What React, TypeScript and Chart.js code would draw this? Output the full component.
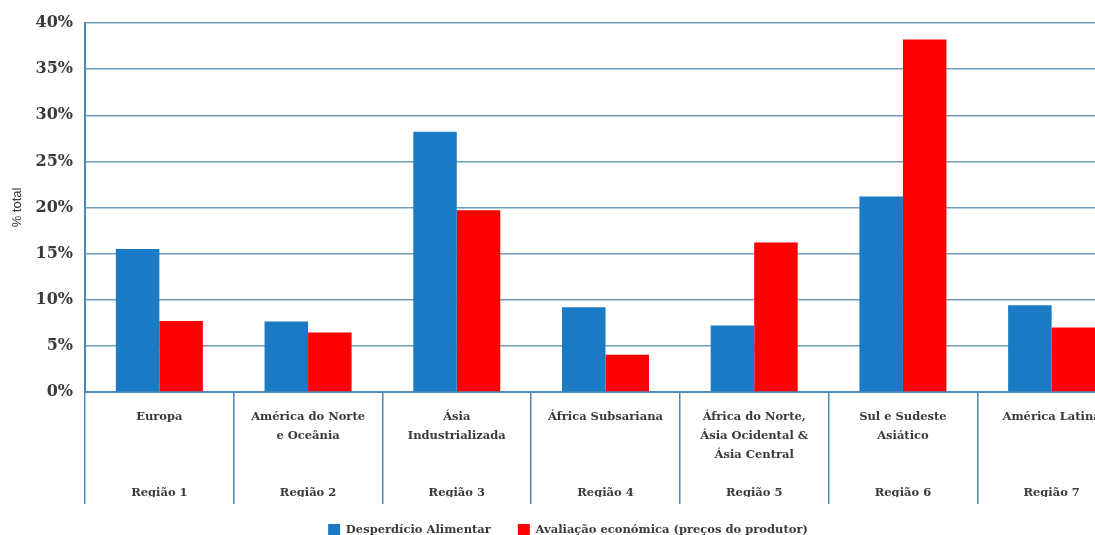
import { useEffect, useRef } from 'react';
import { Chart, registerables } from 'chart.js';

Chart.register(...registerables);

// Regional names (one entry per line) and region codes shown under each group
const regionNames: string[][] = [
  ['Europa'],
  ['América do Norte', 'e Oceânia'],
  ['Ásia', 'Industrializada'],
  ['África Subsariana'],
  ['África do Norte,', 'Ásia Ocidental &', 'Ásia Central'],
  ['Sul e Sudeste', 'Asiático'],
  ['América Latina'],
];
const regionCodes = ['Região 1', 'Região 2', 'Região 3', 'Região 4', 'Região 5', 'Região 6', 'Região 7'];

// Share of the total (%)
const foodWaste = [15.5, 7.65, 28.2, 9.2, 7.2, 21.2, 9.4];
const economicValue = [7.7, 6.45, 19.7, 4.05, 16.2, 38.2, 7.0];

const seriesNames = ['Desperdício Alimentar', 'Avaliação económica (preços do produtor)'];
const yTickValues = [0, 5, 10, 15, 20, 25, 30, 35, 40];

const BLUE = '#1a7bc4';
const RED = '#ff0000';
const GRID = '#6b9dbd';
const AXIS = '#4f89b2';
const TEXT = '#3a3a3a';
const SERIF = '"DejaVu Serif", "Liberation Serif", serif';

// Five text lines per category: the name lines, blank filler, then the region code
const labelLines = regionNames.map((name, i) => {
  const lines = [...name];
  while (lines.length < 4) lines.push('');
  lines.push(regionCodes[i]);
  return lines;
});

export default function App() {
  const canvasRef = useRef<HTMLCanvasElement | null>(null);

  useEffect(() => {
    const canvas = canvasRef.current;
    if (!canvas) return;
    const chart = new Chart(canvas, {
      type: 'bar',
      data: {
        labels: labelLines,
        datasets: [
          {
            label: seriesNames[0],
            data: foodWaste,
            backgroundColor: BLUE,
            categoryPercentage: 0.585,
            barPercentage: 1.0,
          },
          {
            label: seriesNames[1],
            data: economicValue,
            backgroundColor: RED,
            categoryPercentage: 0.585,
            barPercentage: 1.0,
          },
        ],
      },
      options: {
        responsive: false,
        animation: false,
        devicePixelRatio: 1,
        layout: { padding: { top: 23, left: 10, right: 10, bottom: 0 } },
        plugins: {
          tooltip: { enabled: false },
          legend: {
            position: 'bottom',
            labels: {
              boxWidth: 12,
              boxHeight: 12,
              padding: 27,
              color: TEXT,
              font: { family: SERIF, size: 11.5, weight: 'bold' },
            },
          },
        },
        scales: {
          x: {
            grid: {
              display: true,
              offset: true,
              drawOnChartArea: false,
              drawTicks: true,
              tickLength: 112,
              color: AXIS,
              lineWidth: 1.5,
            },
            border: { display: true, color: AXIS, width: 2 },
            ticks: {
              color: TEXT,
              padding: -96,
              maxRotation: 0,
              autoSkip: false,
              font: { family: SERIF, size: 11.5, weight: 'bold', lineHeight: '19px' },
            },
            afterFit: (scale: any) => {
              scale.height = 105;
            },
          },
          y: {
            min: 0,
            max: 40,
            afterBuildTicks: (scale: any) => {
              scale.ticks = yTickValues.map((v) => ({ value: v }));
            },
            grid: { color: GRID, lineWidth: 1.5, drawTicks: false },
            border: { display: true, color: AXIS, width: 2 },
            ticks: {
              color: TEXT,
              padding: 12,
              font: { family: SERIF, size: 16, weight: 'bold' },
              callback: (v: any) => `${v}%`,
            },
            title: {
              display: true,
              text: '% total',
              color: TEXT,
              padding: { top: 0, bottom: 4 },
              font: { family: '"Liberation Sans", Arial, sans-serif', size: 13 },
            },
            afterFit: (scale: any) => {
              scale.width = 75;
            },
          },
        },
      },
    });
    return () => chart.destroy();
  }, []);

  return (
    <div
      style={{
        position: 'fixed',
        left: 0,
        top: 0,
        width: 1095,
        height: 535,
        overflow: 'hidden',
        background: '#ffffff',
      }}
    >
      <canvas ref={canvasRef} width={1136} height={546} style={{ display: 'block' }} />
    </div>
  );
}
